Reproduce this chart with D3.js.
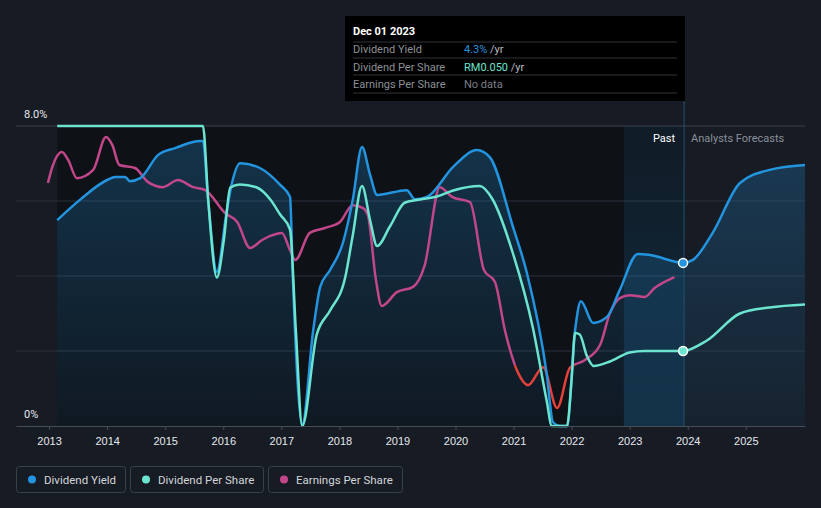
<!DOCTYPE html>
<html><head><meta charset="utf-8">
<script src="https://cdn.jsdelivr.net/npm/d3@7"></script>
<style>
html,body{margin:0;padding:0;background:#161b24;}
svg{display:block;font-family:Roboto,"Open Sans",sans-serif;}
</style></head><body>
<svg id="chart" width="821" height="508"></svg>
<script>
// ---- data (decimal year, value) ----
const yearTicks = [2013,2014,2015,2016,2017,2018,2019,2020,2021,2022,2023,2024,2025];
const yLabels = ["0%","8.0%"];
const dividendYield = [ // % per year
 [2013.14,5.49],[2013.53,6.03],[2014.00,6.56],[2014.14,6.64],[2014.31,6.64],[2014.39,6.53],[2014.57,6.61],
 [2014.88,7.23],[2015.17,7.41],[2015.60,7.60],[2015.65,7.60],[2015.74,6.03],[2015.89,4.11],[2016.05,5.63],
 [2016.15,6.48],[2016.29,7.01],[2016.63,6.88],[2016.98,6.43],[2017.15,6.11],[2017.20,3.89],[2017.36,0.05],
 [2017.55,2.56],[2017.67,3.71],[2017.84,4.16],[2018.06,4.88],[2018.23,6.03],[2018.39,7.44],[2018.53,6.69],
 [2018.65,6.16],[2019.16,6.29],[2019.30,6.05],[2019.51,6.11],[2019.96,6.91],[2020.37,7.36],[2020.59,7.17],
 [2020.99,5.31],[2021.23,4.08],[2021.57,1.41],[2021.68,0.10],[2021.80,0],[2021.92,0],[2022.06,2.56],
 [2022.16,3.33],[2022.37,2.75],[2022.61,2.91],[2022.83,3.63],[2023.14,4.59],[2023.35,4.56],[2023.92,4.35],
 [2024.09,4.43],[2024.43,5.15],[2024.90,6.48],[2025.41,6.83],[2026.02,6.96]
];
const dividendPerShare = [ // RM per year
 [2013.14,0.200],[2015.65,0.200],[2015.74,0.151],[2015.89,0.099],[2016.01,0.124],[2016.12,0.159],[2016.29,0.161],
 [2016.58,0.159],[2016.81,0.151],[2016.98,0.141],[2017.15,0.131],[2017.25,0.064],[2017.36,0],[2017.61,0.061],
 [2017.84,0.077],[2018.10,0.099],[2018.23,0.127],[2018.39,0.160],[2018.53,0.137],[2018.65,0.120],[2018.87,0.133],
 [2019.13,0.149],[2019.39,0.151],[2019.68,0.153],[2019.96,0.157],[2020.42,0.160],[2020.64,0.151],[2020.99,0.115],
 [2021.33,0.066],[2021.57,0.017],[2021.66,0],[2021.92,0],[2022.00,0.031],[2022.06,0.062],[2022.14,0.061],
 [2022.26,0.047],[2022.38,0.040],[2022.66,0.043],[2023.00,0.049],[2023.26,0.050],[2023.92,0.050],[2024.33,0.057],
 [2024.90,0.075],[2025.41,0.079],[2026.02,0.081]
];
const earningsPerShare = [ // relative units
 [2012.98,6.48],[2013.05,6.88],[2013.22,7.31],[2013.33,7.09],[2013.48,6.61],[2013.76,6.83],[2013.98,7.71],
 [2014.09,7.49],[2014.21,6.96],[2014.48,6.88],[2014.70,6.51],[2014.96,6.37],[2015.22,6.56],[2015.48,6.37],
 [2015.69,6.29],[2016.03,5.68],[2016.24,5.44],[2016.46,4.75],[2016.67,4.96],[2016.81,5.07],[2017.01,5.15],
 [2017.15,4.69],[2017.24,4.43],[2017.49,5.15],[2017.75,5.28],[2018.01,5.44],[2018.23,5.89],[2018.41,5.81],
 [2018.49,5.63],[2018.63,3.89],[2018.73,3.20],[2018.99,3.57],[2019.27,3.71],[2019.47,4.29],[2019.73,6.37],
 [2019.94,6.11],[2020.25,5.97],[2020.49,4.16],[2020.68,3.84],[2020.85,2.56],[2021.08,1.41],[2021.25,1.09],
 [2021.51,1.57],[2021.75,0.48],[2021.97,1.55],[2022.23,1.76],[2022.49,2.16],[2022.66,3.01],[2022.83,3.41],
 [2023.00,3.49],[2023.26,3.44],[2023.43,3.68],[2023.60,3.84],[2023.77,3.97]
];
const epsLowThreshold = 1.62;
const pastStart = 2013.14, todayDate = 2023.92, bandStart = 2022.90;
const tooltipRows = [
 {label:"Dividend Yield", value:"4.3%", unit:" /yr", color:"#2394df"},
 {label:"Dividend Per Share", value:"RM0.050", unit:" /yr", color:"#6ce5d0"},
 {label:"Earnings Per Share", value:"No data", unit:"", color:"#7a7f87"}
];
const legendItems = [
 {label:"Dividend Yield", color:"#2394df"},
 {label:"Dividend Per Share", color:"#6ce5d0"},
 {label:"Earnings Per Share", color:"#c2478a"}
];

// ---- scales ----
const svg = d3.select("#chart");
const x = d3.scaleLinear().domain([2012.43, 2026.02]).range([16, 805]);
const yY = d3.scaleLinear().domain([0, 8]).range([426, 126]);
const yD = d3.scaleLinear().domain([0, 0.2]).range([426, 126]);
const yE = d3.scaleLinear().domain([0, 8]).range([426, 126]);

const defs = svg.append("defs");
const ag = defs.append("linearGradient").attr("id","areaGrad").attr("x1",0).attr("x2",0).attr("y1",0).attr("y2",1);
ag.append("stop").attr("offset","0%").attr("stop-color","#2394df").attr("stop-opacity",0.26);
ag.append("stop").attr("offset","100%").attr("stop-color","#2394df").attr("stop-opacity",0.06);
const bg = defs.append("linearGradient").attr("id","bandGrad").attr("x1",0).attr("x2",0).attr("y1",0).attr("y2",1);
bg.append("stop").attr("offset","0%").attr("stop-color","#2394df").attr("stop-opacity",0.08);
bg.append("stop").attr("offset","100%").attr("stop-color","#2394df").attr("stop-opacity",0.2);
defs.append("clipPath").attr("id","clipHigh").append("rect")
  .attr("x",0).attr("y",0).attr("width",821).attr("height",yE(epsLowThreshold));
defs.append("clipPath").attr("id","clipLow").append("rect")
  .attr("x",0).attr("y",yE(epsLowThreshold)).attr("width",821).attr("height",508);

// past dark region
svg.append("rect").attr("x",x(pastStart)).attr("y",yY(8)).attr("width",x(todayDate)-x(pastStart)+1)
  .attr("height",yY(0)-yY(8)).attr("fill","#0e1116");

// gridlines
svg.append("g").selectAll("line").data([2,4,6]).join("line")
  .attr("x1",16).attr("x2",805).attr("y1",d=>yY(d)).attr("y2",d=>yY(d))
  .attr("stroke","#2b313a").attr("stroke-width",1);
svg.append("line").attr("x1",16).attr("x2",805).attr("y1",yY(8)).attr("y2",yY(8))
  .attr("stroke","#3c424b").attr("stroke-width",1);

// area under dividend yield
const curve = d3.curveMonotoneX;
svg.append("path").datum(dividendYield)
  .attr("d", d3.area().x(d=>x(d[0])).y0(yY(0)).y1(d=>yY(d[1])).curve(curve))
  .attr("fill","url(#areaGrad)");

// highlight band
svg.append("rect").attr("x",x(bandStart)).attr("y",yY(8)).attr("width",x(todayDate)-x(bandStart)+1)
  .attr("height",yY(0)-yY(8)).attr("fill","url(#bandGrad)");
svg.append("line").attr("x1",x(todayDate)+1).attr("x2",x(todayDate)+1).attr("y1",101).attr("y2",yY(0))
  .attr("stroke","#24506f").attr("stroke-width",1);

// lines
const lineY = d3.line().x(d=>x(d[0])).y(d=>yY(d[1])).curve(curve);
const lineD = d3.line().x(d=>x(d[0])).y(d=>yD(d[1])).curve(curve);
const lineE = d3.line().x(d=>x(d[0])).y(d=>yE(d[1])).curve(curve);

svg.append("path").datum(earningsPerShare).attr("d",lineE).attr("fill","none")
  .attr("stroke","#c2478a").attr("stroke-width",2.5).attr("clip-path","url(#clipHigh)");
svg.append("path").datum(earningsPerShare).attr("d",lineE).attr("fill","none")
  .attr("stroke","#e5403b").attr("stroke-width",2.5).attr("clip-path","url(#clipLow)");
svg.append("path").datum(dividendYield).attr("d",lineY).attr("fill","none")
  .attr("stroke","#2394df").attr("stroke-width",2.5);
svg.append("path").datum(dividendPerShare).attr("d",lineD).attr("fill","none")
  .attr("stroke","#6ce5d0").attr("stroke-width",2.5);

// markers at today
const dyToday = dividendYield.find(d=>d[0]===todayDate);
const dpsToday = dividendPerShare.find(d=>d[0]===todayDate);
svg.append("circle").attr("cx",x(todayDate)).attr("cy",yY(dyToday[1])).attr("r",4.5)
  .attr("fill","#2394df").attr("stroke","#fff").attr("stroke-width",1.5);
svg.append("circle").attr("cx",x(todayDate)).attr("cy",yD(dpsToday[1])).attr("r",4.5)
  .attr("fill","#6ce5d0").attr("stroke","#fff").attr("stroke-width",1.5);

// x axis
const xAxis = d3.axisBottom(x).tickValues(yearTicks).tickFormat(d3.format("d")).tickSize(4).tickSizeOuter(0);
const gx = svg.append("g").attr("transform",`translate(0,${yY(0)})`).call(xAxis);
gx.select(".domain").attr("stroke","#474d56");
gx.selectAll(".tick line").attr("stroke","#474d56");
gx.selectAll("text").attr("fill","#e6e8ec").attr("font-size",11).attr("dy","1.05em");

// y labels
svg.append("text").attr("x",24).attr("y",yY(8)-8).attr("fill","#e6e8ec").attr("font-size",11).text(yLabels[1]);
svg.append("text").attr("x",24).attr("y",yY(0)-8).attr("fill","#e6e8ec").attr("font-size",11).text(yLabels[0]);

// Past / Forecast labels
svg.append("text").attr("x",x(todayDate)-8).attr("y",142).attr("text-anchor","end")
  .attr("fill","#ffffff").attr("font-size",11).text("Past");
svg.append("text").attr("x",x(todayDate)+8).attr("y",142)
  .attr("fill","#8b9099").attr("font-size",11).text("Analysts Forecasts");

// tooltip
const tt = svg.append("g").attr("transform","translate(345,16)");
tt.append("rect").attr("width",340).attr("height",85).attr("fill","#000");
tt.append("text").attr("x",8).attr("y",19).attr("fill","#fff").attr("font-size",11)
  .attr("font-weight","bold").text("Dec 01 2023");
[26,42,59,77].forEach(yy=>tt.append("line").attr("x1",8).attr("x2",332).attr("y1",yy).attr("y2",yy)
  .attr("stroke","#2e3238"));
tooltipRows.forEach((r,i)=>{
  const yy = 37 + i*17.5;
  tt.append("text").attr("x",8).attr("y",yy).attr("fill","#8c9096").attr("font-size",11).text(r.label);
  const t = tt.append("text").attr("x",119).attr("y",yy).attr("font-size",11);
  t.append("tspan").attr("fill",r.color).text(r.value);
  if (r.unit) t.append("tspan").attr("fill","#b8bcc2").text(r.unit);
});

// legend
const legendWidths = [109,133,134];
let lx = 16;
legendItems.forEach((it,i)=>{
  const g = svg.append("g").attr("transform",`translate(${lx},466)`);
  const w = legendWidths[i];
  g.append("rect").attr("x",0.5).attr("y",0.5).attr("width",w).attr("height",26).attr("rx",3)
    .attr("fill","none").attr("stroke","#3a404a");
  g.append("circle").attr("cx",16).attr("cy",13.5).attr("r",4).attr("fill",it.color);
  g.append("text").attr("x",28).attr("y",17.5).attr("fill","#d4d6da").attr("font-size",11.5).text(it.label);
  lx += w + 5;
});
</script>
</body></html>
